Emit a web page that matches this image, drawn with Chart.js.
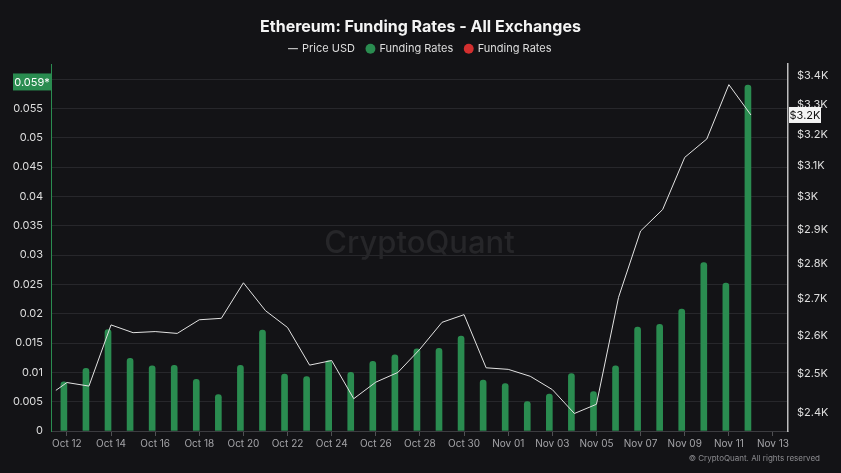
<!DOCTYPE html>
<html>
<head>
<meta charset="utf-8">
<title>Ethereum: Funding Rates - All Exchanges</title>
<script src="https://cdn.jsdelivr.net/npm/chart.js@4.4.1/dist/chart.umd.min.js"></script>
<style>
  html, body { margin: 0; padding: 0; background: #131316; }
  canvas { display: block; }
</style>
</head>
<body>
<canvas id="chart" width="841" height="473"></canvas>
<script>
// ---- data ----
var DATES = ['Oct 12', 'Oct 13', 'Oct 14', 'Oct 15', 'Oct 16', 'Oct 17', 'Oct 18', 'Oct 19',
             'Oct 20', 'Oct 21', 'Oct 22', 'Oct 23', 'Oct 24', 'Oct 25', 'Oct 26', 'Oct 27',
             'Oct 28', 'Oct 29', 'Oct 30', 'Oct 31', 'Nov 01', 'Nov 02', 'Nov 03', 'Nov 04',
             'Nov 05', 'Nov 06', 'Nov 07', 'Nov 08', 'Nov 09', 'Nov 10', 'Nov 11', 'Nov 12', 'Nov 13'];

// daily funding rate, Oct 12 .. Nov 12
var FUNDING = [0.0084, 0.0107, 0.0173, 0.0124, 0.0111, 0.0112, 0.0088, 0.0062,
               0.0112, 0.0172, 0.0097, 0.0093, 0.0120, 0.0100, 0.0119, 0.0130,
               0.0140, 0.0141, 0.0162, 0.0087, 0.0081, 0.0050, 0.0063, 0.0098,
               0.0067, 0.0111, 0.0177, 0.0182, 0.0208, 0.0287, 0.0252, 0.0590];

// ETH price (USD), Oct 12 .. Nov 12, plus the half-day before Oct 12
var PRICE_OPEN = 2457;
var PRICE = [2477, 2468, 2629, 2608, 2611, 2606, 2643, 2647,
             2746, 2668, 2622, 2522, 2534, 2436, 2478, 2503,
             2564, 2636, 2657, 2515, 2511, 2493, 2459, 2399,
             2422, 2705, 2897, 2962, 3126, 3186, 3370, 3266];

var X_TICKS = ['Oct 12', 'Oct 14', 'Oct 16', 'Oct 18', 'Oct 20', 'Oct 22', 'Oct 24', 'Oct 26', 'Oct 28',
               'Oct 30', 'Nov 01', 'Nov 03', 'Nov 05', 'Nov 07', 'Nov 09', 'Nov 11', 'Nov 13'];
var FUNDING_TICKS = [0, 0.005, 0.01, 0.015, 0.02, 0.025, 0.03, 0.035, 0.04, 0.045, 0.05, 0.055, 0.06];
var PRICE_TICKS = [2400, 2500, 2600, 2700, 2800, 2900, 3000, 3100, 3200, 3300, 3400];

// ---- look ----
var BG = '#131316';
var GREEN = '#2a8c50';
var RED = '#d32f2f';
var LINE = '#e2e2e2';
var GRID = '#27272b';
var TEXT = '#dedede';
var MUTED = '#a4a4a8';
var FONT = "Inter, 'Noto Sans', sans-serif";

Chart.defaults.font.family = FONT;
Chart.defaults.color = TEXT;

var fundingData = FUNDING.map(function (v, i) { return { x: i, y: v }; });
var priceData = [{ x: -0.5, y: PRICE_OPEN }].concat(PRICE.map(function (v, i) { return { x: i, y: v }; }));

function setTicks(list) {
  return function (scale) {
    scale.ticks = list.map(function (v) { return { value: v }; });
  };
}

var background = {
  id: 'background',
  beforeDraw: function (chart) {
    var ctx = chart.ctx;
    ctx.save();
    ctx.fillStyle = BG;
    ctx.fillRect(0, 0, chart.width, chart.height);
    ctx.restore();
  }
};

var watermark = {
  id: 'watermark',
  beforeDatasetsDraw: function (chart) {
    var ctx = chart.ctx, a = chart.chartArea;
    ctx.save();
    ctx.font = '500 31px ' + FONT;
    ctx.fillStyle = '#262629';
    ctx.textAlign = 'center';
    ctx.textBaseline = 'middle';
    ctx.fillText('CryptoQuant', (a.left + a.right) / 2, 244);
    ctx.restore();
  }
};

// value tags on both axes + copyright line
var tags = {
  id: 'tags',
  afterDraw: function (chart) {
    var ctx = chart.ctx;
    var yF = chart.scales.y, yP = chart.scales.price;
    var lastF = FUNDING[FUNDING.length - 1];
    var lastP = PRICE[PRICE.length - 1];
    ctx.save();
    ctx.font = '11px ' + FONT;
    ctx.textAlign = 'center';
    ctx.textBaseline = 'middle';

    // funding tag sits slightly above the bar top, like the original
    var fy = yF.getPixelForValue(lastF) - 3;
    ctx.fillStyle = GREEN;
    ctx.fillRect(13, fy - 8.5, yF.right - 13, 17);
    ctx.fillStyle = '#ffffff';
    ctx.fillText(lastF.toFixed(3) + '*', 32, fy + 0.5);

    var py = yP.getPixelForValue(lastP);
    ctx.fillStyle = '#f4f4f4';
    ctx.fillRect(yP.left + 1, py - 8, 32, 16);
    ctx.fillStyle = '#111111';
    ctx.fillText('$' + (Math.floor(lastP / 100) / 10) + 'K', yP.left + 17, py + 0.5);

    ctx.font = '8px ' + FONT;
    ctx.textAlign = 'right';
    ctx.fillStyle = '#8c8c90';
    ctx.fillText('\u00a9 CryptoQuant. All rights reserved', 820, 459);
    ctx.restore();
  }
};

new Chart(document.getElementById('chart'), {
  type: 'bar',
  data: {
    datasets: [
      { type: 'line', label: 'Price USD', data: priceData, yAxisID: 'price', order: 0,
        borderColor: LINE, borderWidth: 1, pointRadius: 0, tension: 0, pointStyle: 'line' },
      { label: 'Funding Rates', data: fundingData, yAxisID: 'y', order: 1,
        backgroundColor: GREEN, borderColor: GREEN, barThickness: 6,
        borderRadius: { topLeft: 3, topRight: 3 }, borderSkipped: 'start', pointStyle: 'circle' },
      { label: 'Funding Rates', data: [], yAxisID: 'y', order: 2,
        backgroundColor: RED, borderColor: RED, pointStyle: 'circle' }
    ]
  },
  options: {
    responsive: false,
    animation: false,
    layout: { padding: 0 },
    plugins: {
      title: {
        display: true, text: 'Ethereum: Funding Rates - All Exchanges',
        color: '#f4f4f4', font: { size: 16, weight: 'bold' },
        padding: { top: 18, bottom: -6 }
      },
      legend: {
        position: 'top',
        labels: { usePointStyle: true, boxWidth: 7, boxHeight: 7, padding: 12,
                  color: TEXT, font: { size: 11 } }
      },
      tooltip: { enabled: false }
    },
    scales: {
      x: {
        type: 'linear', min: -0.72, max: 32.68, offset: false,
        afterBuildTicks: setTicks(X_TICKS.map(function (d) { return DATES.indexOf(d); })),
        ticks: { color: MUTED, font: { size: 10 }, padding: 2, maxRotation: 0,
                 callback: function (v) { return DATES[v]; } },
        grid: { drawOnChartArea: false, drawTicks: true, tickLength: 5, color: '#505054', offset: false },
        border: { color: '#3c3c40' },
        afterFit: function (s) { s.height = 42; s.paddingLeft = 0; s.paddingRight = 0; }
      },
      y: {
        position: 'left', min: 0, max: 0.06254,
        afterBuildTicks: setTicks(FUNDING_TICKS),
        ticks: { color: TEXT, font: { size: 11 }, padding: 8,
                 callback: function (v) { return String(+v.toFixed(3)); } },
        grid: { color: GRID, drawTicks: false },
        border: { color: GREEN, width: 1 },
        afterFit: function (s) { s.width = 51; s.paddingTop = 0; s.paddingBottom = 0; }
      },
      price: {
        type: 'logarithmic', position: 'right', min: 2356, max: 3442,
        afterBuildTicks: setTicks(PRICE_TICKS),
        ticks: { color: TEXT, font: { size: 11 }, padding: 9,
                 callback: function (v) { return '$' + (v / 1000) + 'K'; } },
        grid: { display: false, drawTicks: false },
        border: { color: '#bdbdbd', width: 1.5 },
        afterFit: function (s) { s.width = 53; s.paddingTop = 0; s.paddingBottom = 0; }
      }
    }
  },
  plugins: [background, watermark, tags]
});
</script>
</body>
</html>
